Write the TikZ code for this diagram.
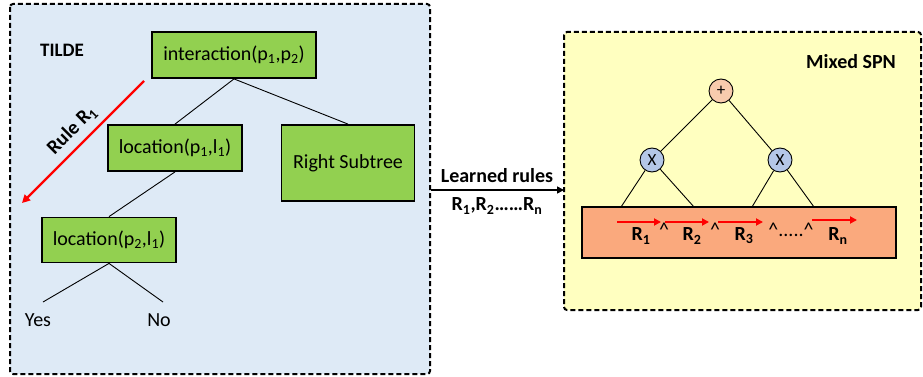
\documentclass[tikz,border=0pt]{standalone}
\usepackage{fontspec}
\setmainfont{Carlito}
\usetikzlibrary{arrows.meta}
\definecolor{panelblue}{RGB}{222,234,246}
\definecolor{panelyellow}{RGB}{255,255,192}
\definecolor{boxgreen}{RGB}{146,208,80}
\definecolor{sumfill}{RGB}{248,203,173}
\definecolor{prodfill}{RGB}{180,199,231}
\definecolor{rulefill}{RGB}{250,169,125}
\newcommand{\sbs}[1]{\textsubscript{#1}}
\tikzset{
  panel/.style={draw=black, line width=2pt, dash pattern=on 5pt off 3pt, rounded corners=3pt},
  treebox/.style={draw=black, line width=1.8pt, fill=boxgreen, inner sep=0pt, font=\fontsize{20}{24}\selectfont},
  edge/.style={draw=black, line width=0.9pt},
  lbl/.style={inner sep=0pt, font=\fontsize{20}{24}\selectfont},
  blbl/.style={inner sep=0pt, font=\fontsize{20}{24}\selectfont\bfseries},
  spnnode/.style={circle, draw=black, line width=0.9pt, minimum size=24pt, inner sep=0pt, font=\fontsize{17}{20}\selectfont},
  redarrow/.style={draw=red, line width=2.2pt, -{Triangle[length=8pt,width=8pt]}},
}
\begin{document}
\begin{tikzpicture}[x=1pt,y=-1pt]
\useasboundingbox (0,0) rectangle (923,377);
% panels
\draw[panel, fill=panelblue] (10,4) rectangle (430,374);
\draw[panel, fill=panelyellow] (564,32) rectangle (921,310);
% left tree
\node[blbl, font=\fontsize{19}{22}\selectfont\bfseries] (tilde) at (62,50) {TILDE};
\node[treebox, minimum width=164pt, minimum height=46pt] (inter) at (234,55) {interaction(p\sbs{1},p\sbs{2})};
\node[treebox, minimum width=134pt, minimum height=46pt] (loc1) at (175,148) {location(p\sbs{1},l\sbs{1})};
\node[treebox, minimum width=133pt, minimum height=76pt] (rsub) at (348,163) {Right Subtree};
\node[treebox, minimum width=134pt, minimum height=45pt] (loc2) at (109,240) {location(p\sbs{2},l\sbs{1})};
\coordinate (yesend) at (43,302);
\coordinate (noend) at (163,302);
\node[lbl] (yes) at (38,320) {Yes};
\node[lbl] (no) at (159,320) {No};
\draw[edge] (inter.south) -- (loc1.north);
\draw[edge] (inter.south) -- (rsub.north);
\draw[edge] (loc1.south) -- (loc2.north);
\draw[edge] (loc2.south) -- (yesend);
\draw[edge] (loc2.south) -- (noend);
% rule arrow
\coordinate (rs) at (144,81);
\coordinate (re) at (22,203);
\draw[redarrow] (rs) -- (re);
\node[blbl, rotate=45] (rule) at (72,130) {Rule R\sbs{1}};
% learned rules arrow
\coordinate (la) at (431,190);
\coordinate (lb) at (564,190);
\draw[line width=1.6pt, -{Triangle[length=7pt,width=7pt]}] (la) -- (lb);
\node[blbl] (learn) at (497,176) {Learned rules};
\node[blbl] (rlist) at (497,206) {R\sbs{1},R\sbs{2}……R\sbs{n}};
% SPN
\node[blbl] (mixed) at (851,62) {Mixed SPN};
\node[spnnode, fill=sumfill] (sum) at (721,91) {+};
\node[spnnode, fill=prodfill] (p1) at (652,160) {X};
\node[spnnode, fill=prodfill] (p2) at (780,160) {X};
\node[draw=black, line width=1.8pt, fill=rulefill, minimum width=314pt, minimum height=51pt, inner sep=0pt] (rules) at (739,232.5) {};
\coordinate (a1) at (621,207);
\coordinate (a2) at (694,207);
\coordinate (a3) at (752,207);
\coordinate (a4) at (814,207);
\draw[edge] (sum) -- (p1);
\draw[edge] (sum) -- (p2);
\draw[edge] (p1) -- (a1);
\draw[edge] (p1) -- (a2);
\draw[edge] (p2) -- (a3);
\draw[edge] (p2) -- (a4);
% rule arrows
\coordinate (ra1) at (617,222); \coordinate (rb1) at (661,222);
\coordinate (ra2) at (665,222); \coordinate (rb2) at (709,222);
\coordinate (ra3) at (718,222); \coordinate (rb3) at (763,222);
\coordinate (ra4) at (812,220); \coordinate (rb4) at (857,220);
\draw[redarrow, -{Triangle[length=7pt,width=7pt]}] (ra1) -- (rb1);
\draw[redarrow, -{Triangle[length=7pt,width=7pt]}] (ra2) -- (rb2);
\draw[redarrow, -{Triangle[length=7pt,width=7pt]}] (ra3) -- (rb3);
\draw[redarrow, -{Triangle[length=7pt,width=7pt]}] (ra4) -- (rb4);
\node[blbl] (r1) at (641,236) {R\sbs{1}};
\node[lbl] (c1) at (664,230) {\textasciicircum};
\node[blbl] (r2) at (692,236) {R\sbs{2}};
\node[lbl] (c2) at (715,230) {\textasciicircum};
\node[blbl] (r3) at (744,236) {R\sbs{3}};
\node[lbl] (c3) at (791,230) {\textasciicircum.....\textasciicircum};
\node[blbl] (rn) at (838,236) {R\sbs{n}};
\end{tikzpicture}
\end{document}
